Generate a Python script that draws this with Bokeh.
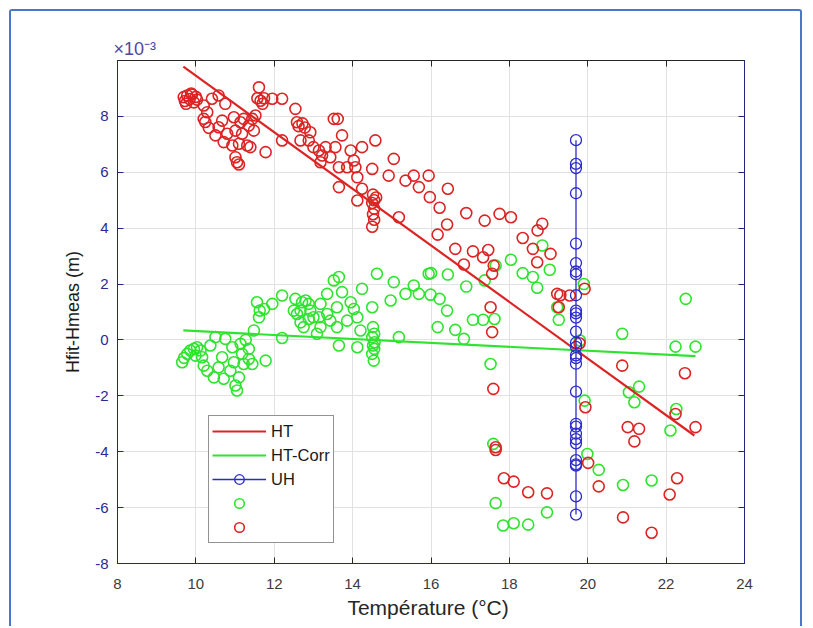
from bokeh.plotting import figure
from bokeh.models import (LinearAxis, FixedTicker, Legend, LegendItem,
                          CustomJSTickFormatter, Range1d)
from bokeh.embed import file_html
from bokeh.resources import INLINE

# ---- data (y values in units of 1e-3 m, as on the axis "x10^-3") ----
x_ticks = [8, 10, 12, 14, 16, 18, 20, 22, 24]
y_ticks = [-8, -6, -4, -2, 0, 2, 4, 6, 8]

# HT raw points (red circles)
ht_x = [9.69, 9.72, 9.78, 9.84, 9.9, 9.95, 10.0, 10.03, 9.75, 9.88,
        10.2, 10.29, 10.2, 10.24, 10.33, 10.5, 10.58, 10.67, 10.41, 10.58,
        10.75, 10.71, 10.8, 10.93, 10.97, 11.01, 11.01, 11.05, 11.1, 11.14,
        11.18, 11.22, 11.31, 11.35, 11.39, 11.44, 11.48, 11.52, 11.1, 11.78,
        11.61, 11.57, 11.65, 11.74, 11.7, 11.95, 12.2, 12.2, 12.54, 12.58,
        12.62, 12.72, 12.78, 12.67, 12.88, 12.92, 13.0, 13.14, 13.18, 13.22,
        13.31, 13.43, 13.56, 13.52, 13.62, 13.73, 13.65, 13.65, 13.95, 13.86,
        14.03, 14.07, 14.12, 14.24, 14.12, 14.24, 14.5, 14.58, 14.52, 14.55,
        14.5, 14.55, 14.52, 14.55, 14.5, 14.6, 14.92, 15.05, 15.18, 15.35,
        15.56, 15.69, 15.94, 15.97, 16.22, 16.43, 16.41, 16.17, 16.9, 16.62,
        16.84, 17.07, 17.37, 17.46, 17.33, 17.75, 18.04, 17.6, 17.56, 17.52,
        17.56, 17.59, 17.65, 18.34, 18.6, 18.72, 18.84, 18.71, 19.05, 19.22,
        19.3, 19.26, 19.54, 19.92, 19.79, 20.88, 22.48, 19.94, 21.02, 21.31,
        21.19, 22.24, 22.75, 17.65, 17.86, 18.11, 18.48, 18.96, 20.01, 20.28,
        20.9, 21.63, 22.28, 22.09]
ht_y = [8.69, 8.55, 8.75, 8.62, 8.78, 8.5, 8.7, 8.6, 8.45, 8.82,
        8.39, 8.15, 7.91, 7.8, 7.59, 7.32, 7.61, 7.85, 8.63, 8.75,
        8.45, 7.08, 7.38, 6.96, 7.97, 7.49, 6.54, 6.36, 7.02, 7.79,
        7.38, 7.91, 6.96, 7.67, 6.9, 7.91, 7.49, 8.03, 6.28, 6.72,
        9.04, 8.65, 8.56, 8.65, 8.45, 8.63, 8.63, 7.14, 8.27, 7.79,
        7.65, 7.75, 7.6, 7.14, 7.14, 7.43, 6.9, 6.78, 6.36, 6.6,
        6.9, 6.54, 6.9, 7.91, 7.91, 7.32, 6.18, 5.47, 6.78, 6.18,
        6.42, 6.18, 5.82, 6.9, 4.99, 5.41, 6.12, 7.14, 5.2, 5.0,
        4.9, 4.7, 4.5, 4.3, 4.05, 5.1, 5.88, 6.48, 4.39, 5.7,
        5.88, 5.47, 5.88, 5.11, 4.73, 5.41, 4.13, 3.77, 4.54, 3.26,
        2.7, 3.17, 4.27, 3.22, 2.96, 4.51, 4.39, 2.66, 2.37, 1.17,
        0.28, -1.75, -3.84, 3.65, 3.26, 3.92, 4.16, 2.78, 3.08, 1.65,
        1.6, 1.17, 1.59, 1.83, -0.12, -0.92, -1.19, -2.41, -3.12, -3.18,
        -3.63, -2.65, -3.12, -3.94, -4.95, -5.07, -5.45, -5.49, -4.4, -5.24,
        -6.35, -6.9, -4.95, -5.53]

# HT-Corr points (green circles)
corr_x = [9.65, 9.7, 9.78, 9.86, 9.95, 10.03, 10.12, 9.99, 10.16, 10.2,
          10.29, 10.37, 10.5, 10.46, 10.58, 10.71, 10.67, 10.75, 10.93, 10.88,
          10.97, 11.01, 11.05, 11.1, 11.14, 11.18, 11.22, 11.27, 11.35, 11.35,
          11.44, 11.48, 11.56, 11.63, 11.61, 11.74, 11.78, 11.95, 12.2, 12.2,
          12.54, 12.5, 12.58, 12.67, 12.71, 12.8, 12.88, 12.92, 12.67, 12.75,
          12.88, 13.0, 13.14, 13.18, 13.09, 13.18, 13.35, 13.52, 13.65, 13.73,
          13.6, 13.35, 13.43, 13.6, 13.86, 13.95, 14.03, 14.12, 14.2, 14.12,
          13.65, 14.24, 14.62, 14.52, 14.55, 14.5, 14.56, 14.52, 14.55, 14.5,
          14.54, 14.5, 14.97, 15.05, 15.18, 15.35, 15.56, 15.69, 15.94, 15.99,
          16.0, 16.22, 16.43, 16.41, 16.17, 16.62, 16.84, 16.9, 17.07, 17.33,
          17.37, 17.62, 17.65, 17.52, 17.59, 18.04, 18.34, 18.6, 18.71, 18.84,
          19.03, 19.26, 19.22, 19.8, 19.9, 19.92, 20.88, 22.5, 22.24, 22.75,
          21.05, 21.19, 21.31, 22.11, 22.26, 19.99, 20.28, 20.9, 21.63, 17.65,
          17.84, 18.11, 18.48, 18.96]
corr_y = [-0.8, -0.64, -0.5, -0.38, -0.32, -0.26, -0.38, -0.56, -0.62, -0.92,
          -1.1, -0.2, 0.1, -1.34, -0.98, -1.39, -0.62, 0.04, -0.26, -1.1,
          -0.8, -1.63, -1.81, -1.34, -0.14, -0.5, -0.86, 0.0, -0.32, -0.68,
          -0.86, 0.34, 1.35, 1.05, 0.81, 1.11, -0.74, 1.29, 1.59, 0.07,
          1.47, 1.05, 0.93, 1.05, 1.35, 1.41, 1.29, 1.05, 0.63, 0.46,
          0.75, 0.81, 0.81, 0.46, 0.22, 1.29, 1.65, 2.13, 2.25, 1.71,
          1.17, 0.93, 0.69, 0.46, 0.69, 1.35, 1.11, 0.81, 0.34, -0.26,
          -0.2, 1.83, 2.37, 0.46, 0.22, 0.1, -0.08, -0.2, -0.32, -0.5,
          -0.74, 1.17, 1.41, 2.07, 0.1, 1.65, 1.95, 1.65, 2.37, 1.62,
          2.39, 1.47, 2.34, 1.05, 0.46, 0.36, 0.04, 1.91, 0.72, 0.72,
          2.13, 0.75, 2.66, -0.86, -3.72, 2.87, 2.39, 2.25, 1.87, 3.38,
          2.51, 0.72, 1.17, -0.02, 2.0, -2.17, 0.22, 1.47, -0.24, -0.24,
          -1.87, -2.23, -1.67, -3.24, -2.47, -4.08, -4.65, -5.19, -5.03, -5.84,
          -6.64, -6.56, -6.61, -6.17]

# UH points (blue circles joined by a line)
uh_y = [7.15, 6.3, 6.15, 5.25, 3.45, 2.75, 2.45, 2.35, 1.6, 1.05,
        0.95, 0.8, 0.3, -0.1, -0.25, -0.55, -0.65, -0.85, -1.85, -3.0,
        -3.1, -3.35, -3.55, -3.7, -4.3, -4.45, -4.5, -5.6, -6.25]
uh_x = [19.7] * len(uh_y)

# Linear fits
ht_fit_x = [9.68, 22.72]
ht_fit_y = [9.78, -3.42]
corr_fit_x = [9.68, 22.75]
corr_fit_y = [0.34, -0.58]

RED = "#dc2424"
GREEN = "#2ee42e"
BLUE = "#2b2bcc"
NAVY = "#262680"
GRAY_TXT = "#3c3c3c"
FONT = "Liberation Sans"

p = figure(width=793, height=617,
           x_range=Range1d(8, 24), y_range=Range1d(-8, 10),
           output_backend="svg", toolbar_location=None,
           min_border_left=106, min_border_right=60,
           min_border_top=49, min_border_bottom=65,
           background_fill_color="white", border_fill_color="white")
p.styles = {"border": "2px solid #4a78c8", "border-bottom": "none",
            "border-radius": "3px 3px 0 0", "margin": "9px 0 0 9px"}
p.outline_line_color = "#262626"
p.outline_line_width = 1

# exponent of the y axis, shown at the top-left of the axes box
p.title.text = "×10⁻³"
p.title.align = "left"
p.title.offset = -4
p.title.standoff = 3
p.title.text_font = FONT
p.title.text_font_size = "18px"
p.title.text_font_style = "normal"
p.title.text_color = "#4a4aa0"

xt = FixedTicker(ticks=x_ticks)
yt = FixedTicker(ticks=y_ticks)

def style_axis(ax, color, labels=True, ticker=None):
    ax.ticker = ticker
    ax.axis_line_color = color
    ax.axis_line_width = 1
    ax.major_tick_line_color = color
    ax.major_tick_in = 6
    ax.major_tick_out = 0
    ax.minor_tick_line_color = None
    ax.major_label_text_font = FONT
    ax.major_label_text_font_size = "15px"
    if not labels:
        ax.formatter = CustomJSTickFormatter(code="return ''")
        ax.major_label_standoff = 0
        ax.major_label_text_font_size = "0px"

# bottom x axis
xa = p.xaxis[0]
style_axis(xa, NAVY, ticker=xt)
xa.major_tick_line_color = "#262626"
xa.major_label_text_color = GRAY_TXT
xa.major_label_standoff = 15
xa.axis_label = "Température  (°C)"
xa.axis_label_text_font = FONT
xa.axis_label_text_font_size = "21px"
xa.axis_label_text_font_style = "normal"
xa.axis_label_text_color = "#262626"
xa.axis_label_standoff = 4

# left y axis (plain hyphen minus, as in the original)
ya = p.yaxis[0]
style_axis(ya, NAVY, ticker=yt)
ya.formatter = CustomJSTickFormatter(code="return String(tick)")
ya.major_label_text_color = "#2a2a95"
ya.major_label_standoff = 9
ya.axis_label = "Hfit-Hmeas (m)"
ya.axis_label_text_font = FONT
ya.axis_label_text_font_size = "18px"
ya.axis_label_text_font_style = "normal"
ya.axis_label_text_color = "#1a1a1a"
ya.axis_label_standoff = 9

# top and right box axes (ticks only)
top = LinearAxis()
style_axis(top, "#262626", labels=False, ticker=xt)
p.add_layout(top, "above")
right = LinearAxis()
style_axis(right, NAVY, labels=False, ticker=yt)
p.add_layout(right, "right")

p.xgrid.ticker = xt
p.ygrid.ticker = yt
p.xgrid.grid_line_color = "#e2e2e2"
p.ygrid.grid_line_color = "#e2e2e2"

# scatter points
r_green = p.scatter(corr_x, corr_y, marker="circle", size=11,
                    fill_color=None, line_color=GREEN, line_width=1.6)
r_red = p.scatter(ht_x, ht_y, marker="circle", size=11,
                  fill_color=None, line_color=RED, line_width=1.6)
r_ht = p.line(ht_fit_x, ht_fit_y, line_color=RED, line_width=2.2)
r_corr = p.line(corr_fit_x, corr_fit_y, line_color=GREEN, line_width=2.2)
r_uh_line = p.line(uh_x, uh_y, line_color=BLUE, line_width=1.3)
r_uh_pts = p.scatter(uh_x, uh_y, marker="circle", size=11,
                     fill_color=None, line_color=BLUE, line_width=1.3)

legend = Legend(items=[
    LegendItem(label="HT", renderers=[r_ht]),
    LegendItem(label="HT-Corr", renderers=[r_corr]),
    LegendItem(label="UH", renderers=[r_uh_line, r_uh_pts]),
    LegendItem(label=" ", renderers=[r_green]),
    LegendItem(label=" ", renderers=[r_red]),
], location=(91, 20))
legend.label_text_font = FONT
legend.label_text_font_size = "16.5px"
legend.label_text_color = "#1a1a1a"
legend.glyph_width = 54
legend.glyph_height = 24
legend.label_height = 23
legend.spacing = -1
legend.padding = 3
legend.margin = 0
legend.label_standoff = 5
legend.border_line_color = "#262626"
legend.border_line_width = 1
legend.background_fill_color = "white"
legend.background_fill_alpha = 1
p.add_layout(legend, "center")

open("out.html", "w").write(file_html(p, INLINE))
